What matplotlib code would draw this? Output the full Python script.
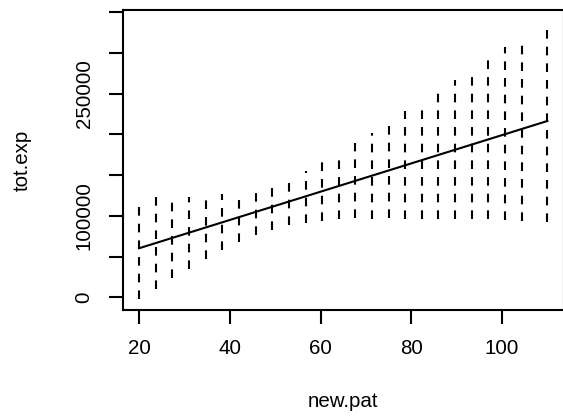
import matplotlib
matplotlib.use("Agg")
import matplotlib.pyplot as plt

plt.rcParams["font.family"] = ["Liberation Sans", "DejaVu Sans"]
plt.rcParams["lines.scale_dashes"] = False

# interval positions (new.pat) and their lower / upper ends (tot.exp)
new_pat = [20, 23.7, 27.3, 31, 34.7, 38.3, 42, 45.7, 49.3, 53, 56.7, 60.3, 64,
           67.7, 71.3, 75, 78.7, 82.3, 86, 89.7, 93.3, 97, 100.7, 104.3, 110]
lower = [-2000, 10200, 23300, 34800, 46700, 58100, 68300, 76500, 82600, 88800,
         91600, 94100, 95800, 97000, 96500, 97000, 96500, 96100, 96100, 96100,
         96100, 95800, 94900, 94100, 92800]
upper = [113300, 122800, 116700, 123500, 120300, 126500, 120300, 128900, 136700,
         141200, 155500, 166500, 168600, 189900, 202200, 212400, 229100, 232100,
         253300, 266800, 273000, 293500, 307000, 313100, 332300]

# fitted line end points
fit_x = [20, 110]
fit_y = [60200, 216500]

ytick_vals = [0, 50000, 100000, 150000, 200000, 250000, 300000, 350000]
ytick_labels = ["0", "", "100000", "", "", "250000", "", ""]
xtick_vals = [20, 40, 60, 80, 100]

W, H = 563, 417
fig = plt.figure(figsize=(W / 100, H / 100), dpi=100)
ax = fig.add_axes([122.7 / W, (H - 310) / H, (563.7 - 122.7) / W, 300 / H])

lw = 1.5
for x, lo, hi in zip(new_pat, lower, upper):
    ax.plot([x, x], [lo, hi], color="black", lw=lw,
            linestyle=(0, (6.2, 5.8)), solid_capstyle="butt",
            dash_capstyle="butt")
ax.plot(fit_x, fit_y, color="black", lw=lw)

ax.set_xlim(16.4, 113.6)
ax.set_ylim(-15600, 352800)
ax.set_xticks(xtick_vals)
ax.set_yticks(ytick_vals)
ax.set_yticklabels(ytick_labels, rotation=90, va="center")

for s in ax.spines.values():
    s.set_linewidth(lw)
ax.tick_params(length=10, width=lw, labelsize=14.8, pad=11)

ax.set_xlabel("new.pat", fontsize=14.8)
ax.set_ylabel("tot.exp", fontsize=14.8)
ax.xaxis.set_label_coords(0.5, -(401.7 - 310) / 300)
ax.xaxis.label.set_va("center")
ax.yaxis.set_label_coords((22 - 122.7) / 441, 0.5)
ax.yaxis.label.set_va("center")

fig.savefig("out.png", dpi=100)
